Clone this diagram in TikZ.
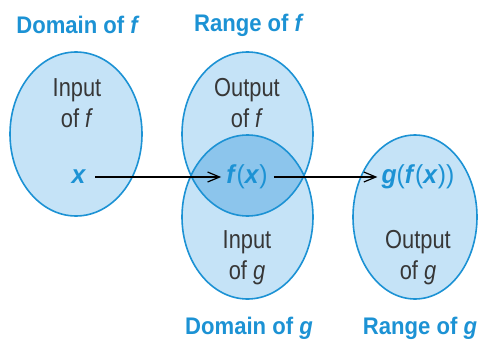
\documentclass[tikz,border=0pt]{standalone}
\usepackage{fontspec}
\setmainfont{Liberation Sans}
\newfontfamily\condfont{Liberation Sans}[FakeStretch=0.84]
\newfontfamily\titlefont{Liberation Sans}[FakeStretch=0.92]
\newfontfamily\elemfont{Liberation Sans}[FakeStretch=0.95]
\usetikzlibrary{shapes.geometric,arrows.meta}
\definecolor{edgeblue}{RGB}{28,146,212}
\definecolor{fillblue}{RGB}{197,227,247}
\definecolor{lensblue}{RGB}{140,197,236}
\definecolor{textgray}{RGB}{55,55,55}
\newcommand{\vb}[1]{\textbf{\textit{#1}}}
\newcommand{\pl}{\textnormal{\elemfont(}}
\newcommand{\pr}{\textnormal{\elemfont)}}
\begin{document}
\begin{tikzpicture}[x=1pt,y=-1pt,
  setshape/.style={ellipse,draw=edgeblue,line width=1.6pt,inner sep=0pt},
  titletext/.style={text=edgeblue,font=\titlefont\fontsize{24}{27}\selectfont\bfseries},
  bodytext/.style={text=textgray,font=\condfont\fontsize{26}{31}\selectfont,align=center},
  elemtext/.style={text=edgeblue,font=\elemfont\fontsize{26}{28}\selectfont,inner sep=1pt},
  maparrow/.style={draw=black,line width=1.2pt,-{Straight Barb[length=12pt,width=10pt,line width=1.2pt]}}]
\useasboundingbox (0,0) rectangle (479,343);
% fills
\fill[fillblue] (76,134) ellipse (66 and 82);
\fill[fillblue] (247.5,134) ellipse (65.5 and 82);
\fill[fillblue] (247.5,217) ellipse (65.5 and 82);
\fill[fillblue] (415,217) ellipse (62 and 82);
\begin{scope}
  \clip (247.5,134) ellipse (65.5 and 82);
  \fill[lensblue] (247.5,217) ellipse (65.5 and 82);
\end{scope}
% outlines
\node[setshape,minimum width=132pt,minimum height=164pt] (domf) at (76,134) {};
\node[setshape,minimum width=131pt,minimum height=164pt] (rangef) at (247.5,134) {};
\node[setshape,minimum width=131pt,minimum height=164pt] (domg) at (247.5,217) {};
\node[setshape,minimum width=124pt,minimum height=164pt] (rangeg) at (415,217) {};
% titles
\node[titletext] (tdomf) at (78,25) {Domain of \textit{f}};
\node[titletext] (trangef) at (249,25) {Range of \textit{f}};
\node[titletext] (tdomg) at (249,328) {Domain of \textit{g}};
\node[titletext] (trangeg) at (420,328) {Range of \textit{g}};
% body texts
\node[bodytext] (inf) at (77,103) {Input\\of \textit{f}};
\node[bodytext] (outf) at (247,103) {Output\\of \textit{f}};
\node[bodytext] (ing) at (247,258) {Input\\of \textit{g}};
\node[bodytext] (outg) at (418,258) {Output\\of \textit{g}};
% elements
\node[elemtext] (x) at (79,177) {\vb{x}};
\node[elemtext] (fx) at (247,177) {\vb{f}\pl\vb{x}\pr};
\node[elemtext] (gfx) at (418,177) {\vb{g}\pl\vb{f}\pl\vb{x}\pr\pr};
\draw[maparrow] (x.east) ++(8pt,0) coordinate (xs) (xs) -- ([xshift=-4pt]fx.west);
\draw[maparrow] (fx.east) ++(5pt,0) coordinate (fs) (fs) -- ([xshift=-3pt]gfx.west);
\end{tikzpicture}
\end{document}
